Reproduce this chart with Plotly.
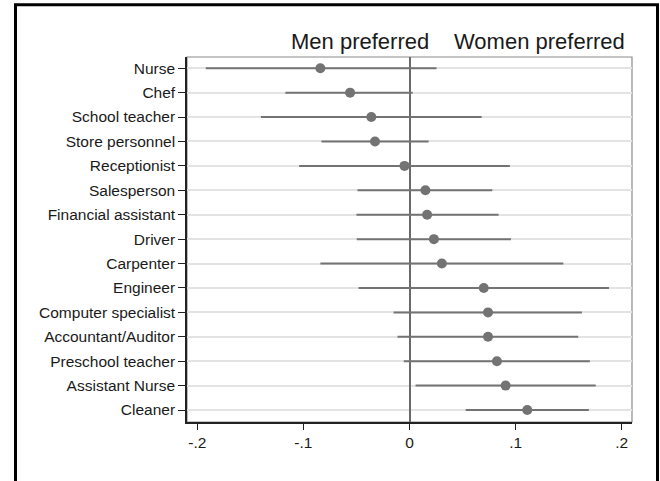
import plotly.graph_objects as go

occupations = ["Nurse", "Chef", "School teacher", "Store personnel", "Receptionist",
               "Salesperson", "Financial assistant", "Driver", "Carpenter", "Engineer",
               "Computer specialist", "Accountant/Auditor", "Preschool teacher",
               "Assistant Nurse", "Cleaner"]
estimate = [-0.084, -0.056, -0.036, -0.0325, -0.0047, 0.015, 0.0166, 0.023, 0.0305,
            0.070, 0.074, 0.074, 0.0824, 0.0906, 0.111]
ci_low = [-0.192, -0.117, -0.140, -0.083, -0.104, -0.049, -0.050, -0.0497, -0.084,
          -0.048, -0.015, -0.0113, -0.0054, 0.0057, 0.053]
ci_high = [0.0255, 0.003, 0.068, 0.018, 0.0946, 0.078, 0.084, 0.0956, 0.145,
           0.188, 0.1625, 0.159, 0.170, 0.1755, 0.169]
x_tickvals = [-0.2, -0.1, 0, 0.1, 0.2]
x_ticktext = ["-.2", "-.1", "0", ".1", ".2"]

err_plus = [h - e for h, e in zip(ci_high, estimate)]
err_minus = [e - l for e, l in zip(estimate, ci_low)]

gray = "#737373"
font_family = "Liberation Sans, Arial, sans-serif"

W, H = 660, 481
L, R, T, B = 187, 28, 57, 59
PW, PH = W - L - R, H - T - B


def px_to_paper_x(px):
    return (px - L) / PW


def px_to_paper_y(py):
    return (H - B - py) / PH


fig = go.Figure()
fig.add_trace(go.Scatter(
    x=estimate, y=occupations, mode="markers",
    marker=dict(color=gray, size=10),
    error_x=dict(type="data", array=err_plus, arrayminus=err_minus,
                 color=gray, thickness=2, width=0, symmetric=False),
    showlegend=False, hoverinfo="skip"))

bx0, bx1, by0, by1 = px_to_paper_x(15.5), px_to_paper_x(657.5), px_to_paper_y(4.8), px_to_paper_y(500)
border = dict(color="black", width=3)

fig.update_layout(
    width=W, height=H,
    margin=dict(l=L, r=R, t=T, b=B),
    paper_bgcolor="white", plot_bgcolor="white",
    font=dict(family=font_family, size=15.5, color="#1a1a1a"),
    xaxis=dict(range=[-0.2097, 0.2097], tickvals=x_tickvals, ticktext=x_ticktext,
               showgrid=False, zeroline=True, zerolinecolor="#6a6a6a", zerolinewidth=1.5,
               showline=True, linecolor="#222222", linewidth=1.5,
               ticks="outside", ticklen=6, tickwidth=1.2, tickcolor="#222222"),
    yaxis=dict(type="category", range=[14.49, -0.46],
               showgrid=True, gridcolor="#e3e3e3", gridwidth=1.5,
               showline=True, linecolor="#222222", linewidth=1.5,
               ticks="outside", ticklen=7, tickwidth=1.2, tickcolor="#222222"),
    shapes=[
        dict(type="rect", xref="paper", yref="paper", x0=0, x1=1, y0=0, y1=1,
             line=dict(color="#8a8a8a", width=1.2), layer="below"),
        dict(type="rect", xref="paper", yref="paper", x0=bx0, x1=bx1,
             y0=by1, y1=by0, line=border, layer="above"),
    ],
    annotations=[
        dict(text="Men preferred", xref="x", yref="paper", x=0.0201, y=px_to_paper_y(41.5),
             xanchor="right", yanchor="middle", showarrow=False,
             font=dict(size=22, color="#1a1a1a")),
        dict(text="Women preferred", xref="x", yref="paper", x=0.0399, y=px_to_paper_y(41.5),
             xanchor="left", yanchor="middle", showarrow=False,
             font=dict(size=22, color="#1a1a1a")),
    ],
)

fig.write_html(
    "out.html", config={"displayModeBar": False},
    post_script=("var d=document.getElementById('{plot_id}');"
                 "d.style.position='absolute';d.style.left='0px';d.style.top='0px';"))
